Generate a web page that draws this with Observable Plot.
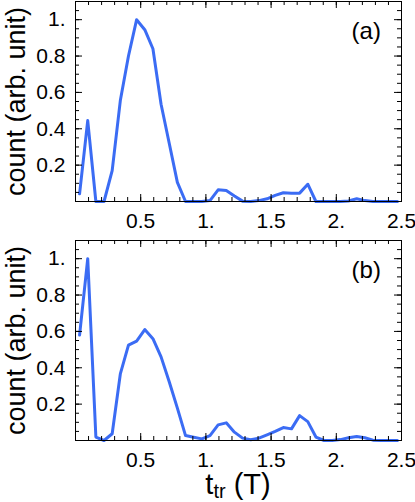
<!DOCTYPE html>
<html><head><meta charset="utf-8">
<script src="https://cdn.jsdelivr.net/npm/d3@7"></script>
<script src="https://cdn.jsdelivr.net/npm/@observablehq/plot@0.6"></script>
<style>
body{margin:0;background:#fff;}
#chart svg{display:block;}
</style></head><body><div id="chart"></div>
<script>
// bin centres of t_tr (T)
const binCenters = [0.03125, 0.09375, 0.15625, 0.21875, 0.28125, 0.34375, 0.40625, 0.46875, 0.53125, 0.59375,
  0.65625, 0.71875, 0.78125, 0.84375, 0.90625, 0.96875, 1.03125, 1.09375, 1.15625, 1.21875,
  1.28125, 1.34375, 1.40625, 1.46875, 1.53125, 1.59375, 1.65625, 1.71875, 1.78125, 1.84375,
  1.90625, 1.96875, 2.03125, 2.09375, 2.15625, 2.21875, 2.28125, 2.34375, 2.40625, 2.46875];
// panel (a)
const countA = [0.042, 0.445, 0, 0, 0.17, 0.555, 0.80, 1.0, 0.945, 0.84,
  0.535, 0.32, 0.105, 0, 0, 0, 0.005, 0.064, 0.06, 0.03,
  0.002, 0, 0.005, 0.015, 0.034, 0.048, 0.046, 0.046, 0.095, 0,
  0, 0, 0, 0.003, 0.015, 0.005, 0, 0, 0, 0];
// panel (b)
const countB = [0.58, 1.0, 0.019, 0, 0.037, 0.366, 0.525, 0.547, 0.61, 0.56,
  0.46, 0.323, 0.178, 0.027, 0.018, 0.009, 0.027, 0.086, 0.097, 0.046,
  0.013, 0.004, 0.013, 0.031, 0.05, 0.071, 0.064, 0.137, 0.104, 0.019,
  0, 0, 0.005, 0.015, 0.022, 0.015, 0.002, 0, 0, 0];
const panelLabels = ["(a)", "(b)"];
const xMajorTicks = [0.5, 1, 1.5, 2, 2.5];
const yMajorTicks = [0.2, 0.4, 0.6, 0.8, 1];
const xMinorTicks = d3.range(0, 26).map(i => i / 10);
const yMinorTicks = d3.range(0, 23).map(i => i / 20);
const yTitle = "count (arb. unit)";
const xTitleParts = ["t", "tr", " (T)"];

const FONT = "'Liberation Sans', Arial, Helvetica, sans-serif";
const BLUE = "#3b6cf4";
const fmt = d => Number.isInteger(d) ? d + "." : String(d);

const W = 415, ML = 75, MR = 14;
const innerW = W - ML - MR;
const innerH = 200;
const MAJOR = 7, MINOR = 4;

function inwardTicks() {
  const marks = [];
  for (const [ticks, len] of [[xMinorTicks, MINOR], [xMajorTicks, MAJOR]]) {
    marks.push(Plot.ruleX(ticks, {x: d => d, insetTop: innerH - len, stroke: "black"}));
    marks.push(Plot.ruleX(ticks, {x: d => d, insetBottom: innerH - len, stroke: "black"}));
  }
  for (const [ticks, len] of [[yMinorTicks, MINOR], [yMajorTicks, MAJOR]]) {
    marks.push(Plot.ruleY(ticks, {y: d => d, insetRight: innerW - len, stroke: "black"}));
    marks.push(Plot.ruleY(ticks, {y: d => d, insetLeft: innerW - len, stroke: "black"}));
  }
  return marks;
}

function panel(values, label, marginTop, marginBottom) {
  const data = binCenters.map((x, i) => ({x, y: values[i]}));
  return Plot.plot({
    width: W, height: marginTop + innerH + marginBottom,
    marginLeft: ML, marginRight: MR, marginTop, marginBottom,
    style: {fontFamily: FONT, color: "black", background: "white", overflow: "visible"},
    x: {domain: [0, 2.5], axis: null},
    y: {domain: [0, 1.1], axis: null},
    marks: [
      Plot.line(data, {x: "x", y: "y", stroke: BLUE, strokeWidth: 3}),
      ...inwardTicks(),
      Plot.frame({stroke: "black", strokeWidth: 1}),
      Plot.axisX(xMajorTicks, {anchor: "bottom", tickSize: 0, tickPadding: 11.5, tickFormat: fmt, fontSize: 21, label: null}),
      Plot.axisY(yMajorTicks, {anchor: "left", tickSize: 0, tickPadding: 10, tickFormat: fmt, fontSize: 21, label: null}),
      Plot.text([label], {x: 2.23, y: 0.935, text: d => d, fontSize: 24, textAnchor: "middle", lineAnchor: "middle"}),
      Plot.text([yTitle], {frameAnchor: "left", dx: -59, rotate: -90, text: d => d, fontSize: 27,
        textAnchor: "middle", lineAnchor: "middle"})
    ]
  });
}

const chart = document.getElementById("chart");
const plotA = panel(countA, panelLabels[0], 1, 35);
const plotB = panel(countB, panelLabels[1], 4, 62);
chart.append(plotA, plotB);

// x-axis title with subscript, centred on the x scale
const xs = plotB.scale("x");
const t = d3.select(plotB).append("text")
  .attr("x", xs.apply(1.25)).attr("y", 258)
  .attr("text-anchor", "middle").attr("font-size", 29)
  .attr("font-family", FONT).attr("fill", "black");
t.append("tspan").text(xTitleParts[0]);
t.append("tspan").attr("font-size", 20).attr("dy", 4).text(xTitleParts[1]);
t.append("tspan").attr("dy", -4).text(xTitleParts[2]);
</script></body></html>
